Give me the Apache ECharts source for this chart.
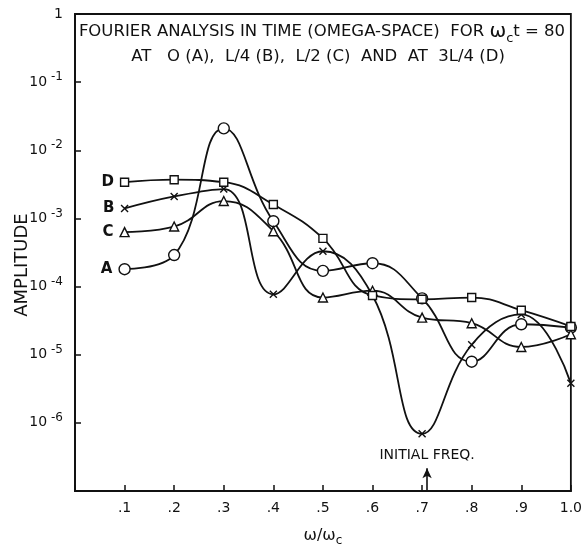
<!DOCTYPE html>
<html>
<head>
<meta charset="utf-8">
<script src="https://cdn.jsdelivr.net/npm/echarts@6/dist/echarts.min.js"></script>
<style>
  html, body { margin: 0; padding: 0; background: #fff; }
  #chart { width: 585px; height: 552px; }
</style>
</head>
<body>
<div id="chart"></div>
<script>
// frequency positions (omega / omega_c)
const xValues = [0.1, 0.2, 0.3, 0.4, 0.5, 0.6, 0.7, 0.8, 0.9, 1.0];

// amplitudes
const seriesA = [1.8e-4, 2.9e-4, 2.1e-2, 9.1e-4, 1.7e-4, 2.2e-4, 6.7e-5, 7.9e-6, 2.8e-5, 2.5e-5];
const seriesB = [1.4e-3, 2.1e-3, 2.7e-3, 7.7e-5, 3.3e-4, 7.4e-5, 6.9e-7, 1.4e-5, 3.9e-5, 3.8e-6];
const seriesC = [6.3e-4, 7.6e-4, 1.8e-3, 6.5e-4, 6.9e-5, 8.7e-5, 3.5e-5, 2.9e-5, 1.3e-5, 2.0e-5];
const seriesD = [3.4e-3, 3.7e-3, 3.4e-3, 1.6e-3, 5.1e-4, 7.4e-5, 6.5e-5, 6.9e-5, 4.5e-5, 2.6e-5];

// tick labels
const xTickLabels = ['', '.1', '.2', '.3', '.4', '.5', '.6', '.7', '.8', '.9', '1.0'];
const yTickLabels = ['', '10 -6', '10 -5', '10 -4', '10 -3', '10 -2', '10 -1', '1']; // 1e-7 .. 1

// arrow marking the initial frequency
const initialFreq = 0.71;
const arrowRange = [1e-7, 2.15e-7];

const FONT = 'DejaVu Sans';
const INK = '#111';

const xMark = 'path://M0,0L10,10M10,0L0,10';

function pairs(ys) {
  return ys.map((v, i) => [xValues[i], v]);
}

function makeSeries(name, ys, symbol, size) {
  return {
    name: name,
    type: 'line',
    data: pairs(ys),
    smooth: 0.45,
    symbol: symbol,
    symbolSize: size,
    showAllSymbol: true,
    lineStyle: { color: INK, width: 1.8 },
    itemStyle: { color: '#fff', borderColor: INK, borderWidth: 1.4 },
    label: {
      show: true,
      position: 'left',
      distance: 6,
      color: INK,
      fontFamily: FONT,
      fontSize: 15,
      fontWeight: 'bold',
      formatter: p => (p.dataIndex === 0 ? name : '')
    },
    emphasis: { disabled: true },
    z: 3
  };
}

const chart = echarts.init(document.getElementById('chart'));

const seriesList = [
  makeSeries('A', seriesA, 'circle', 11),
  makeSeries('C', seriesC, 'triangle', 9),
  makeSeries('B', seriesB, xMark, 7),
  makeSeries('D', seriesD, 'rect', 8)
];

// initial frequency arrow
seriesList[0].markLine = {
  silent: true,
  symbol: ['none', 'arrow'],
  symbolSize: [7, 10],
  lineStyle: { color: INK, width: 1.6, type: 'solid' },
  label: {
    show: true,
    position: 'end',
    distance: 6,
    formatter: 'INITIAL FREQ.',
    color: INK,
    fontFamily: FONT,
    fontSize: 14
  },
  data: [[{ coord: [initialFreq, arrowRange[0]] }, { coord: [initialFreq, arrowRange[1]] }]]
};

const option = {
  animation: false,
  backgroundColor: '#fff',
  grid: {
    left: 75, right: 14, top: 14, bottom: 55,
    show: true, borderColor: INK, borderWidth: 1.8
  },
  xAxis: {
    type: 'value',
    min: 0, max: 1, interval: 0.1,
    name: '{w|ω/ω}{s|c}',
    nameLocation: 'middle',
    nameGap: 34,
    nameTextStyle: {
      rich: {
        w: { fontFamily: FONT, fontSize: 16, color: INK },
        s: { fontFamily: FONT, fontSize: 12, color: INK, padding: [10, 0, 0, 0] }
      }
    },
    axisLine: { show: true, lineStyle: { color: INK, width: 1.8 } },
    axisTick: { inside: true, length: 6, lineStyle: { color: INK, width: 1.5 } },
    splitLine: { show: false },
    axisLabel: {
      margin: 10,
      color: INK,
      fontFamily: FONT,
      fontSize: 14,
      formatter: v => xTickLabels[Math.round(v * 10)]
    }
  },
  yAxis: {
    type: 'log',
    logBase: 10,
    min: 1e-7, max: 1,
    axisLine: { show: true, lineStyle: { color: INK, width: 1.8 } },
    axisTick: { inside: true, length: 6, lineStyle: { color: INK, width: 1.5 } },
    minorTick: { show: false },
    splitLine: { show: false },
    axisLabel: {
      margin: 12,
      color: INK,
      formatter: v => {
        const idx = Math.round(Math.log10(v)) + 7;
        const t = yTickLabels[idx] || '';
        const parts = t.split(' ');
        if (parts.length < 2) return '{b|' + t + '}';
        return '{b|' + parts[0] + '}{s|' + parts[1] + '}';
      },
      rich: {
        b: { fontFamily: FONT, fontSize: 14, color: INK },
        s: { fontFamily: FONT, fontSize: 12, color: INK, padding: [0, 0, 10, 4] }
      }
    }
  },
  graphic: [
    {
      type: 'text',
      x: 322, y: 32,
      style: {
        text: '{t|FOURIER ANALYSIS IN TIME (OMEGA-SPACE)  FOR }{w|ω}{s|c}{t|t = 80}',
        textAlign: 'center',
        textVerticalAlign: 'middle',
        rich: {
          t: { fontFamily: FONT, fontSize: 16.5, fill: INK },
          w: { fontFamily: FONT, fontSize: 20, fill: INK },
          s: { fontFamily: FONT, fontSize: 13, fill: INK, padding: [14, 0, 0, 0] }
        }
      }
    },
    {
      type: 'text',
      x: 318, y: 57,
      style: {
        text: 'AT   O (A),  L/4 (B),  L/2 (C)  AND  AT  3L/4 (D)',
        textAlign: 'center',
        textVerticalAlign: 'middle',
        fontFamily: FONT, fontSize: 16.5, fill: INK
      }
    },
    {
      type: 'text',
      x: 22, y: 265,
      rotation: Math.PI / 2,
      style: {
        text: 'AMPLITUDE',
        textAlign: 'center',
        textVerticalAlign: 'middle',
        fontFamily: FONT, fontSize: 18, fill: INK
      }
    }
  ],
  series: seriesList
};

chart.setOption(option);
</script>
</body>
</html>
